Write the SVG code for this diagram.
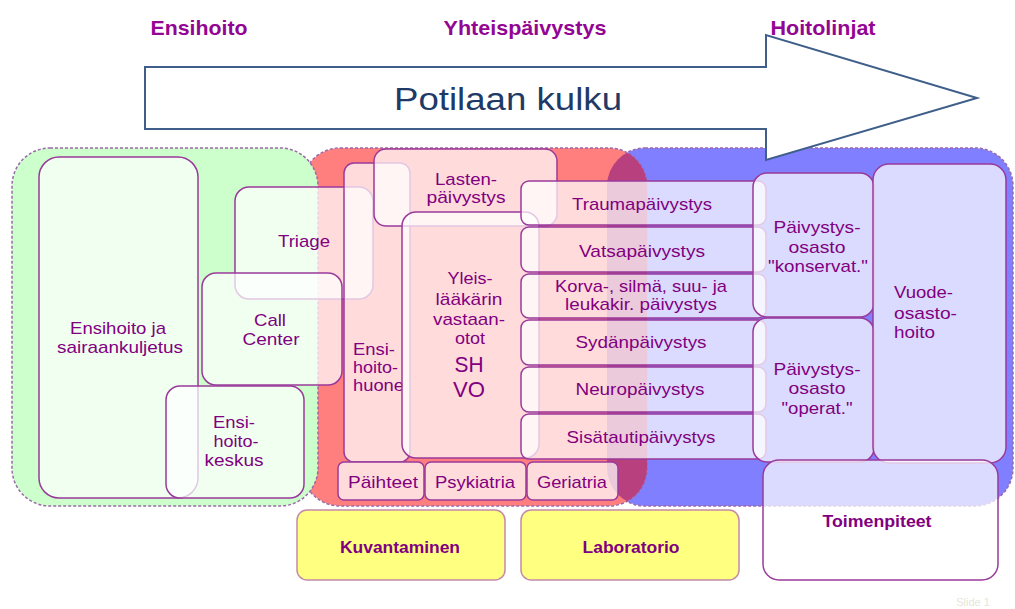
<svg xmlns="http://www.w3.org/2000/svg" width="1015" height="609" viewBox="0 0 1015 609">
<defs>
<style>
.t{font-family:"Liberation Sans",Arial,sans-serif;fill:#800080;font-size:17px;text-anchor:middle}
.l{font-family:"Liberation Sans",Arial,sans-serif;fill:#800080;font-size:17px;text-anchor:start}
.h{font-family:"Liberation Sans",Arial,sans-serif;fill:#930593;font-size:21px;font-weight:bold;text-anchor:middle}
.k{font-family:"Liberation Sans",Arial,sans-serif;fill:#800080;font-size:16px;font-weight:bold;text-anchor:middle}
.big{font-size:22px}
.b{fill:#fff;fill-opacity:.72;stroke:#9a3a9a;stroke-width:1.5}
.y{fill:#ffff80;stroke:#c48aa8;stroke-width:1.5}
.zone{stroke:#9a6aa8;stroke-width:1.5;stroke-dasharray:3 2}
</style>
<clipPath id="redclip"><rect x="302" y="148" width="345" height="358" rx="38"/></clipPath>
</defs>
<rect width="1015" height="609" fill="#fff"/>

<g id="zones">
<rect id="zone-blue" class="zone" x="607" y="148" width="406" height="358" rx="38" fill="#7f7fff"/>
<rect id="zone-red" class="zone" x="302" y="148" width="345" height="358" rx="38" fill="#ff7f7f"/>
<rect x="607" y="148" width="406" height="358" rx="38" fill="#b8407e" clip-path="url(#redclip)"/>
<rect id="zone-green" class="zone" x="12" y="148" width="306" height="358" rx="38" fill="#ccffcc"/>
</g>

<g id="headers">
<text class="h" x="199" y="35" textLength="97" lengthAdjust="spacingAndGlyphs">Ensihoito</text>
<text class="h" x="525" y="35" textLength="163" lengthAdjust="spacingAndGlyphs">Yhteispäivystys</text>
<text class="h" x="823" y="35" textLength="105" lengthAdjust="spacingAndGlyphs">Hoitolinjat</text>
</g>

<g id="arrow">
<polygon points="145,67 766,67 766,35 977,98 766,160 766,129 145,129" fill="#fff" stroke="#3f5f8a" stroke-width="2"/>
<text x="508" y="110" font-family="'Liberation Sans',Arial,sans-serif" font-size="31" fill="#1f3a66" text-anchor="middle" textLength="228" lengthAdjust="spacingAndGlyphs">Potilaan kulku</text>
</g>

<g id="connectors"></g>

<g id="n-ensihoito-sairaankuljetus">
<rect class="b" x="39" y="157" width="159" height="341" rx="20"/>
<text class="t" x="118" y="334" textLength="96" lengthAdjust="spacingAndGlyphs">Ensihoito ja</text>
<text class="t" x="120" y="353" textLength="126" lengthAdjust="spacingAndGlyphs">sairaankuljetus</text>
</g>
<g id="n-triage">
<rect class="b" x="235" y="187" width="138" height="112" rx="14"/>
<text class="t" x="304" y="247" textLength="52" lengthAdjust="spacingAndGlyphs">Triage</text>
</g>
<g id="n-call-center">
<rect class="b" x="202" y="273" width="140" height="112" rx="14"/>
<text class="t" x="270" y="326" textLength="32" lengthAdjust="spacingAndGlyphs">Call</text>
<text class="t" x="271" y="345" textLength="57" lengthAdjust="spacingAndGlyphs">Center</text>
</g>
<g id="n-ensihoitokeskus">
<rect class="b" x="166" y="386" width="138" height="112" rx="14"/>
<text class="t" x="234" y="428" textLength="42" lengthAdjust="spacingAndGlyphs">Ensi-</text>
<text class="t" x="236" y="447" textLength="45" lengthAdjust="spacingAndGlyphs">hoito-</text>
<text class="t" x="234" y="466" textLength="59" lengthAdjust="spacingAndGlyphs">keskus</text>
</g>

<g id="n-ensihoitohuone">
<rect class="b" x="344" y="163" width="66" height="299" rx="10"/>
<text class="l" x="353" y="355" textLength="42" lengthAdjust="spacingAndGlyphs">Ensi-</text>
<text class="l" x="353" y="373" textLength="45" lengthAdjust="spacingAndGlyphs">hoito-</text>
<text class="l" x="353" y="391" textLength="51" lengthAdjust="spacingAndGlyphs">huone</text>
</g>
<g id="n-lastenpaivystys">
<rect class="b" x="374" y="149" width="183" height="77" rx="12"/>
<text class="t" x="466" y="185" textLength="62" lengthAdjust="spacingAndGlyphs">Lasten-</text>
<text class="t" x="466" y="203" textLength="79" lengthAdjust="spacingAndGlyphs">päivystys</text>
</g>
<g id="n-yleislaakari">
<rect class="b" x="402" y="212" width="137" height="246" rx="14"/>
<text class="t" x="470" y="284" textLength="45" lengthAdjust="spacingAndGlyphs">Yleis-</text>
<text class="t" x="469" y="305" textLength="67" lengthAdjust="spacingAndGlyphs">lääkärin</text>
<text class="t" x="469" y="325" textLength="72" lengthAdjust="spacingAndGlyphs">vastaan-</text>
<text class="t" x="470" y="344" textLength="30" lengthAdjust="spacingAndGlyphs">otot</text>
<text class="t big" x="469" y="372" textLength="29" lengthAdjust="spacingAndGlyphs">SH</text>
<text class="t big" x="469" y="397" textLength="32" lengthAdjust="spacingAndGlyphs">VO</text>
</g>

<g id="n-trauma">
<rect class="b" x="521" y="181" width="245" height="44" rx="8"/>
<text class="t" x="642" y="210" textLength="140" lengthAdjust="spacingAndGlyphs">Traumapäivystys</text>
</g>
<g id="n-vatsa">
<rect class="b" x="521" y="227" width="245" height="45" rx="8"/>
<text class="t" x="642" y="257" textLength="126" lengthAdjust="spacingAndGlyphs">Vatsapäivystys</text>
</g>
<g id="n-korva">
<rect class="b" x="521" y="274" width="245" height="44" rx="8"/>
<text class="t" x="641" y="292" textLength="172" lengthAdjust="spacingAndGlyphs">Korva-, silmä, suu- ja</text>
<text class="t" x="641" y="310" textLength="152" lengthAdjust="spacingAndGlyphs">leukakir. päivystys</text>
</g>
<g id="n-sydan">
<rect class="b" x="521" y="320" width="245" height="45" rx="8"/>
<text class="t" x="641" y="348" textLength="131" lengthAdjust="spacingAndGlyphs">Sydänpäivystys</text>
</g>
<g id="n-neuro">
<rect class="b" x="521" y="367" width="245" height="45" rx="8"/>
<text class="t" x="640" y="395" textLength="129" lengthAdjust="spacingAndGlyphs">Neuropäivystys</text>
</g>
<g id="n-sisatauti">
<rect class="b" x="521" y="414" width="245" height="45" rx="8"/>
<text class="t" x="641" y="443" textLength="149" lengthAdjust="spacingAndGlyphs">Sisätautipäivystys</text>
</g>

<g id="n-paihteet">
<rect class="b" x="338" y="462" width="86" height="38" rx="6"/>
<text class="t" x="383" y="488" textLength="70" lengthAdjust="spacingAndGlyphs">Päihteet</text>
</g>
<g id="n-psykiatria">
<rect class="b" x="425" y="462" width="101" height="38" rx="6"/>
<text class="t" x="475" y="488" textLength="80" lengthAdjust="spacingAndGlyphs">Psykiatria</text>
</g>
<g id="n-geriatria">
<rect class="b" x="527" y="462" width="91" height="38" rx="6"/>
<text class="t" x="572" y="488" textLength="70" lengthAdjust="spacingAndGlyphs">Geriatria</text>
</g>

<g id="n-paivystysosasto-konservat">
<rect class="b" x="753" y="173" width="121" height="144" rx="14"/>
<text class="t" x="817" y="233" textLength="87" lengthAdjust="spacingAndGlyphs">Päivystys-</text>
<text class="t" x="817" y="253" textLength="57" lengthAdjust="spacingAndGlyphs">osasto</text>
<text class="t" x="818" y="272" textLength="100" lengthAdjust="spacingAndGlyphs">"konservat."</text>
</g>
<g id="n-paivystysosasto-operat">
<rect class="b" x="753" y="318" width="121" height="144" rx="14"/>
<text class="t" x="817" y="375" textLength="87" lengthAdjust="spacingAndGlyphs">Päivystys-</text>
<text class="t" x="817" y="394" textLength="57" lengthAdjust="spacingAndGlyphs">osasto</text>
<text class="t" x="817" y="414" textLength="71" lengthAdjust="spacingAndGlyphs">"operat."</text>
</g>
<g id="n-vuodeosastohoito">
<rect class="b" x="873" y="164" width="133" height="299" rx="16"/>
<text class="l" x="894" y="298" textLength="59" lengthAdjust="spacingAndGlyphs">Vuode-</text>
<text class="l" x="894" y="319" textLength="63" lengthAdjust="spacingAndGlyphs">osasto-</text>
<text class="l" x="894" y="338" textLength="41" lengthAdjust="spacingAndGlyphs">hoito</text>
</g>
<g id="n-toimenpiteet">
<rect class="b" x="763" y="460" width="235" height="120" rx="16"/>
<text class="k" x="877" y="527" textLength="109" lengthAdjust="spacingAndGlyphs">Toimenpiteet</text>
</g>

<g id="n-kuvantaminen">
<rect class="y" x="297" y="510" width="208" height="70" rx="10"/>
<text class="k" x="400" y="553" textLength="120" lengthAdjust="spacingAndGlyphs">Kuvantaminen</text>
</g>
<g id="n-laboratorio">
<rect class="y" x="521" y="510" width="218" height="70" rx="10"/>
<text class="k" x="631" y="553" textLength="97" lengthAdjust="spacingAndGlyphs">Laboratorio</text>
</g>

<text x="973" y="606" font-family="'Liberation Sans',Arial,sans-serif" font-size="11" fill="#e6e6da" text-anchor="middle">Slide 1</text>
</svg>
